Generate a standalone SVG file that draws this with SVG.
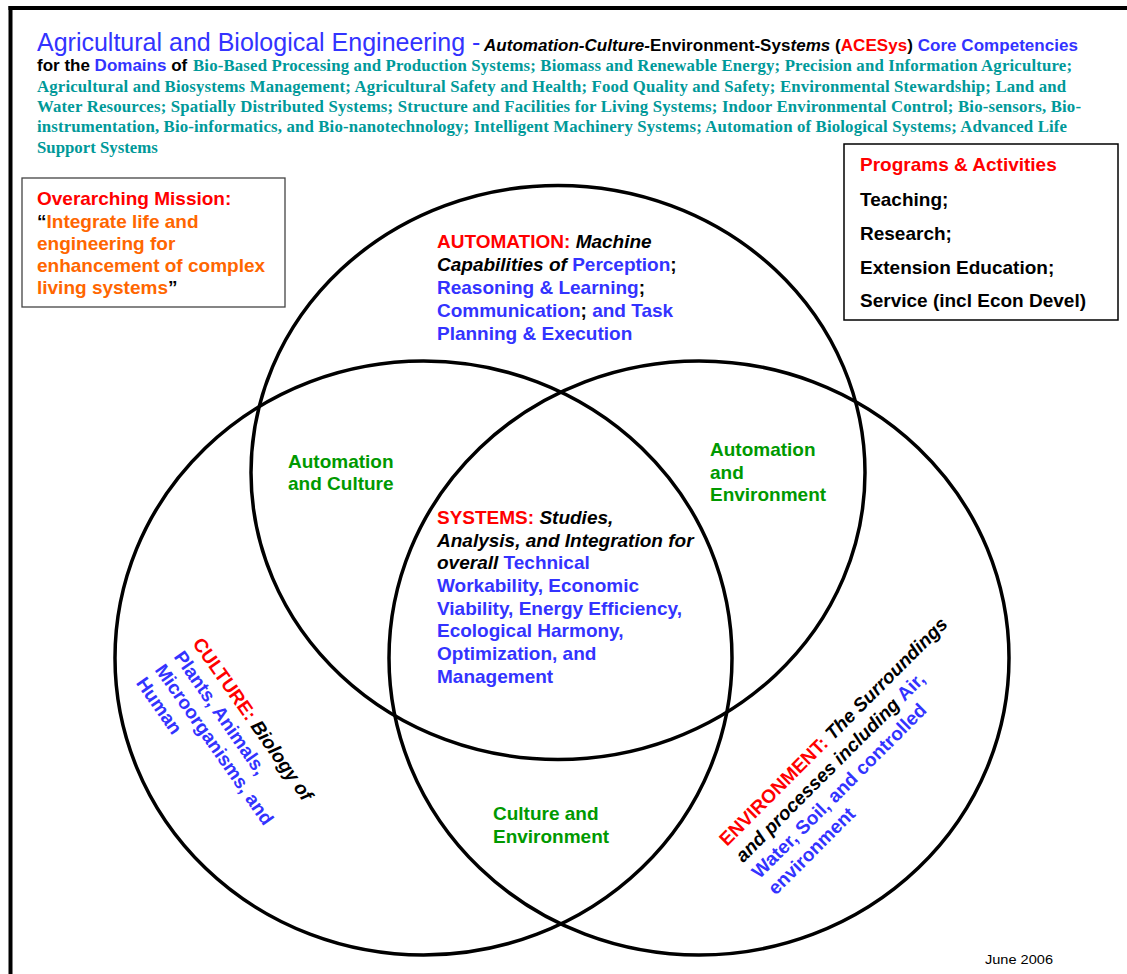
<svg xmlns="http://www.w3.org/2000/svg" width="1127" height="974" viewBox="0 0 1127 974">
<style>
.s{font-family:"Liberation Sans",Arial,sans-serif;font-weight:bold;font-size:19px}
.sm{font-size:17px}
.t{font-family:"Liberation Serif","Times New Roman",serif;font-weight:bold;font-size:16.8px;fill:#009999}
.red{fill:#FF0000}.blue{fill:#3333FF}.blk{fill:#000}.grn{fill:#009900}.org{fill:#FF6600}
.it{font-style:italic}
.ring{fill:none;stroke:#000;stroke-width:3.5}
</style>
<rect width="1127" height="974" fill="#fff"/>
<g id="frame" stroke="#000" stroke-width="4" fill="none">
<line x1="8.5" y1="8" x2="1127" y2="8"/>
<line x1="10.5" y1="6" x2="10.5" y2="974"/>
</g>
<g id="rings">
<ellipse class="ring" cx="423.5" cy="658" rx="308.5" ry="297"/>
<ellipse class="ring" cx="699" cy="658" rx="310" ry="297"/>
<ellipse class="ring" cx="558" cy="472.5" rx="307" ry="287"/>
</g>
<g id="header">
<text x="37" y="51" font-family="Liberation Sans,Arial,sans-serif" font-size="25" fill="#3333FF">Agricultural and Biological Engineering -</text>
<text x="484" y="51" class="s sm" textLength="594" lengthAdjust="spacing"><tspan class="it">Automation-Culture-</tspan><tspan>Environment-Sys</tspan><tspan class="it">tems</tspan> (<tspan class="red">ACESys</tspan>) <tspan class="blue">Core Competencies</tspan></text>
<text x="37" y="71" class="s sm">for the <tspan class="blue">Domains</tspan> of</text>
<text x="193" y="71" class="t" textLength="879" lengthAdjust="spacing">Bio-Based Processing and Production Systems; Biomass and Renewable Energy; Precision and Information Agriculture;</text>
<text x="37" y="91.5" class="t" textLength="1029" lengthAdjust="spacing">Agricultural and Biosystems Management; Agricultural Safety and Health; Food Quality and Safety; Environmental Stewardship; Land and</text>
<text x="37" y="112" class="t" textLength="1044" lengthAdjust="spacing">Water Resources; Spatially Distributed Systems; Structure and Facilities for Living Systems; Indoor Environmental Control; Bio-sensors, Bio-</text>
<text x="37" y="132" class="t" textLength="1030" lengthAdjust="spacing">instrumentation, Bio-informatics, and Bio-nanotechnology; Intelligent Machinery Systems; Automation of Biological Systems; Advanced Life</text>
<text x="37" y="152.5" class="t">Support Systems</text>
</g>
<g id="mission">
<rect x="22" y="178" width="263" height="129" fill="none" stroke="#444" stroke-width="1.3"/>
<text class="s" x="37" y="205"><tspan class="red">Overarching Mission:</tspan></text>
<text class="s org" x="37" y="227.5"><tspan class="blk">“</tspan>Integrate life and</text>
<text class="s org" x="37" y="249.5">engineering for</text>
<text class="s org" x="37" y="271.5">enhancement of complex</text>
<text class="s org" x="37" y="293.5">living systems<tspan class="blk">”</tspan></text>
</g>
<g id="programs">
<rect x="844" y="144" width="274" height="176" fill="none" stroke="#000" stroke-width="1.5"/>
<text class="s red" x="860" y="171">Programs &amp; Activities</text>
<text class="s" x="860" y="206">Teaching;</text>
<text class="s" x="860" y="240">Research;</text>
<text class="s" x="860" y="274">Extension Education;</text>
<text class="s" x="860" y="307">Service (incl Econ Devel)</text>
</g>
<g id="automation">
<text class="s" x="437" y="248"><tspan class="red">AUTOMATION:</tspan> <tspan class="it">Machine</tspan></text>
<text class="s" x="437" y="271"><tspan class="it">Capabilities of </tspan><tspan class="blue">Perception</tspan>;</text>
<text class="s" x="437" y="294"><tspan class="blue">Reasoning &amp; Learning</tspan>;</text>
<text class="s" x="437" y="317"><tspan class="blue">Communication</tspan>; <tspan class="blue">and Task</tspan></text>
<text class="s blue" x="437" y="340">Planning &amp; Execution</text>
</g>
<g id="systems">
<text class="s" x="437" y="524"><tspan class="red">SYSTEMS:</tspan> <tspan class="it">Studies,</tspan></text>
<text class="s it" x="437" y="546.5">Analysis, and Integration for</text>
<text class="s" x="437" y="569"><tspan class="it">overall </tspan><tspan class="blue">Technical</tspan></text>
<text class="s blue" x="437" y="592">Workability, Economic</text>
<text class="s blue" x="437" y="614.5">Viability, Energy Efficiency,</text>
<text class="s blue" x="437" y="637">Ecological Harmony,</text>
<text class="s blue" x="437" y="660">Optimization, and</text>
<text class="s blue" x="437" y="682.5">Management</text>
</g>
<g id="culture" transform="translate(192,643.5) rotate(55)">
<text class="s" x="0" y="0"><tspan class="red">CULTURE:</tspan> <tspan class="it">Biology of</tspan></text>
<text class="s blue" x="0" y="23">Plants, Animals,</text>
<text class="s blue" x="0" y="46">Microorganisms, and</text>
<text class="s blue" x="0" y="69">Human</text>
</g>
<g id="environment" transform="translate(727,847) rotate(-45)">
<text class="s" x="0" y="0"><tspan class="red">ENVIRONMENT:</tspan> <tspan class="it">The Surroundings</tspan></text>
<text class="s" x="0" y="23"><tspan class="it">and processes including </tspan><tspan class="blue">Air,</tspan></text>
<text class="s blue" x="0" y="46">Water, Soil, and controlled</text>
<text class="s blue" x="0" y="69">environment</text>
</g>
<g id="automation-culture">
<text class="s grn" x="288" y="467.5">Automation</text>
<text class="s grn" x="288" y="490">and Culture</text>
</g>
<g id="automation-environment">
<text class="s grn" x="710" y="456">Automation</text>
<text class="s grn" x="710" y="478.5">and</text>
<text class="s grn" x="710" y="501">Environment</text>
</g>
<g id="culture-environment">
<text class="s grn" x="493" y="820">Culture and</text>
<text class="s grn" x="493" y="843">Environment</text>
</g>
<g id="date">
<text x="985" y="964" font-family="Liberation Sans,Arial,sans-serif" font-size="13" textLength="68" lengthAdjust="spacingAndGlyphs">June 2006</text>
</g>
</svg>
